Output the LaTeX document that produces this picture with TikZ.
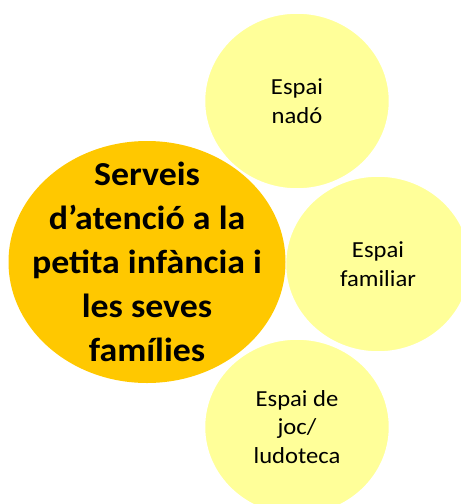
\documentclass[tikz,border=0pt]{standalone}
\usepackage{fontspec}
\setmainfont{Carlito}
\newfontfamily\widefont[FakeStretch=1.07]{Carlito}
\usepackage{tikz}
\usetikzlibrary{positioning}
\usetikzlibrary{shapes.geometric}

\definecolor{mainorange}{HTML}{FFC800}
\definecolor{paleyellow}{HTML}{FFFF99}

\begin{document}
\begin{tikzpicture}[ x = 1pt, y = -1pt
                     , align = center
                     , every node/.style = { ellipse
                                         , inner sep = 0pt
                                         , align = center }
                     ]

    \useasboundingbox (0,0) rectangle (461,504);

    \tikzset{ service/.style = {fill=mainorange, minimum width=277pt,
                                minimum height=242pt}
            , servicetext/.style = {shape=rectangle, fill=none,
                                    font=\widefont\fontsize{33.5}{44}\selectfont\bfseries}
            , space/.style = {fill=paleyellow, draw=white, line width=1.5pt,
                              minimum width=185pt, minimum height=176pt,
                              font=\widefont\fontsize{23}{28.5}\selectfont}}
    %%
    %% Spaces (drawn first, below the main ellipse)
    %%
    \node (nado)     [space] at (297,101) {Espai\\nadó};
    \node (familiar) [space] at (378,264) {Espai\\familiar};
    \node (ludoteca) [space] at (297,427) {Espai de\\joc/\\ludoteca};
    %%
    %% Main service
    %%
    \node (serveis)  [service, label={[servicetext]center:Serveis\\d’atenció a la\\petita infància i\\les seves\\famílies}]
      at (147,262) {};
  \end{tikzpicture}
\end{document}
